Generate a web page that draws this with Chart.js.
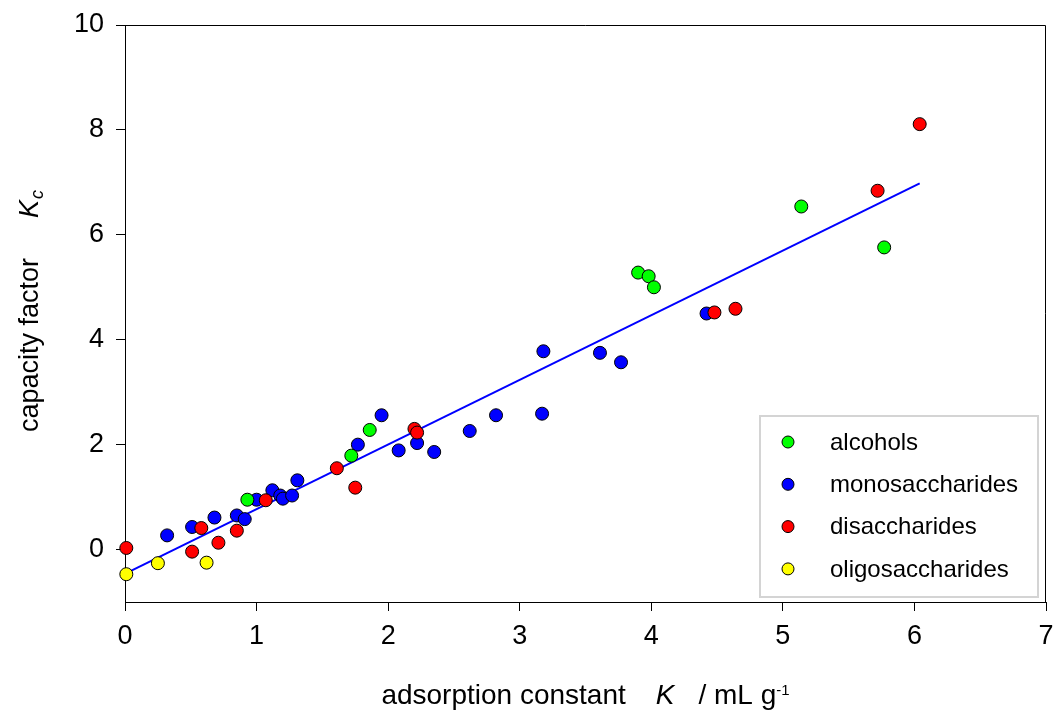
<!DOCTYPE html>
<html>
<head>
<meta charset="utf-8">
<script src="https://cdn.jsdelivr.net/npm/chart.js@4"></script>
<style>
html, body { margin: 0; padding: 0; background: #fff; }
</style>
</head>
<body>
<canvas id="myChart" width="1055" height="711"></canvas>
<script>
// values
var alcohols_x = [0.93, 1.72, 1.86, 3.90, 3.98, 4.02, 5.14, 5.77];
var alcohols_y = [0.95, 1.79, 2.28, 5.28, 5.21, 5.00, 6.54, 5.76];

var mono_x = [0.32, 0.51, 0.68, 0.85, 0.91, 1.00, 1.12, 1.18, 1.20, 1.27, 1.31, 1.77, 1.95, 2.08, 2.22, 2.35, 2.62, 2.82, 3.17, 3.18, 3.61, 3.77, 4.42];
var mono_y = [0.27, 0.43, 0.61, 0.65, 0.58, 0.95, 1.13, 1.03, 0.97, 1.03, 1.32, 2.00, 2.56, 1.89, 2.03, 1.86, 2.26, 2.56, 2.59, 3.78, 3.75, 3.57, 4.50];

var di_x = [0.01, 0.51, 0.58, 0.71, 0.85, 1.07, 1.61, 1.75, 2.20, 2.22, 4.48, 4.64, 5.72, 6.04];
var di_y = [0.03, -0.04, 0.41, 0.13, 0.36, 0.94, 1.55, 1.18, 2.30, 2.23, 4.52, 4.59, 6.84, 8.11];

var oligo_x = [0.01, 0.25, 0.62];
var oligo_y = [-0.47, -0.26, -0.25];

// fitted line, end points
var fit_x = [0.01, 6.04];
var fit_y = [-0.45, 6.98];

var x_ticks = [0, 1, 2, 3, 4, 5, 6, 7];
var y_ticks = [0, 2, 4, 6, 8, 10];

var series_labels = ['alcohols', 'monosaccharides', 'disaccharides', 'oligosaccharides'];
var series_colors = ['#00ff00', '#0000ff', '#ff0000', '#ffff00'];

var font_family = "'Liberation Sans', Arial, sans-serif";

function pts(xs, ys) {
    return xs.map(function(x, i) { return {x: x, y: ys[i]}; });
}

function point_set(i, xs, ys, order) {
    return {
        label: series_labels[i],
        data: pts(xs, ys),
        backgroundColor: series_colors[i],
        borderColor: '#000',
        borderWidth: 1,
        pointRadius: 6.5,
        pointHoverRadius: 6.5,
        clip: false,
        order: order
    };
}

// draws text made of several pieces (italic letter, super/subscript)
function draw_parts(ctx, parts, cx, cy) {
    var total = 0;
    parts.forEach(function(p) {
        ctx.font = p.font;
        p.w = ctx.measureText(p.text).width;
        total += p.w + (p.gap || 0);
    });
    var x = cx - total / 2;
    parts.forEach(function(p) {
        x += p.gap || 0;
        ctx.font = p.font;
        ctx.fillText(p.text, x, cy + (p.dy || 0));
        x += p.w;
    });
}

var frame_and_titles = {
    id: 'frame_and_titles',
    afterDraw: function(chart) {
        var ctx = chart.ctx;
        var a = chart.chartArea;
        ctx.save();
        // top and right frame lines
        ctx.strokeStyle = '#000';
        ctx.lineWidth = 1;
        ctx.beginPath();
        ctx.moveTo(a.left, a.top + 0.5);
        ctx.lineTo(a.right - 0.5, a.top + 0.5);
        ctx.lineTo(a.right - 0.5, a.bottom);
        ctx.stroke();

        ctx.fillStyle = '#000';
        ctx.textBaseline = 'alphabetic';
        ctx.textAlign = 'left';

        // x title
        draw_parts(ctx, [
            {text: 'adsorption constant', font: '28px ' + font_family},
            {text: 'K', font: 'italic 28px ' + font_family, gap: 30},
            {text: '/ mL g', font: '28px ' + font_family, gap: 24},
            {text: '-1', font: '15px ' + font_family, dy: -9}
        ], (a.left + a.right) / 2, 704);

        // y title
        ctx.translate(38, 311);
        ctx.rotate(-Math.PI / 2);
        draw_parts(ctx, [
            {text: 'capacity factor', font: '27px ' + font_family},
            {text: 'K', font: 'italic 27px ' + font_family, gap: 40},
            {text: 'c', font: 'italic 18px ' + font_family, dy: 5, gap: 1}
        ], 0, 0);
        ctx.restore();

        // legend box
        var bx = a.right - 286, by = a.bottom - 186, bw = 278, bh = 181;
        ctx.save();
        ctx.fillStyle = '#fff';
        ctx.fillRect(bx, by, bw, bh);
        ctx.strokeStyle = '#d4d4d4';
        ctx.lineWidth = 2;
        ctx.strokeRect(bx, by, bw, bh);
        ctx.font = '24px ' + font_family;
        ctx.textBaseline = 'middle';
        ctx.textAlign = 'left';
        for (var i = 0; i < series_labels.length; i++) {
            var ry = by + 26 + i * 42.3;
            ctx.beginPath();
            ctx.arc(bx + 28, ry, 6, 0, Math.PI * 2);
            ctx.fillStyle = series_colors[i];
            ctx.fill();
            ctx.lineWidth = 1;
            ctx.strokeStyle = '#000';
            ctx.stroke();
            ctx.fillStyle = '#000';
            ctx.fillText(series_labels[i], bx + 70, ry + 1);
        }
        ctx.restore();
    }
};

async function draw_chart() {
    const ctx = document.getElementById('myChart');
    new Chart(ctx, {
        type: 'scatter',
        data: {
            datasets: [
                point_set(0, alcohols_x, alcohols_y, 1),
                point_set(1, mono_x, mono_y, 3),
                point_set(2, di_x, di_y, 1),
                point_set(3, oligo_x, oligo_y, 1),
                {
                    type: 'line',
                    label: 'fit',
                    data: pts(fit_x, fit_y),
                    borderColor: '#0000ff',
                    borderWidth: 2,
                    pointRadius: 0,
                    fill: false,
                    order: 10
                }
            ]
        },
        options: {
            responsive: false,
            animation: false,
            layout: {
                padding: {top: 25, right: 9, left: 0, bottom: 0}
            },
            plugins: {
                legend: {display: false},
                tooltip: {enabled: false}
            },
            scales: {
                x: {
                    type: 'linear',
                    min: 0,
                    max: 7,
                    afterBuildTicks: function(s) { s.ticks = x_ticks.map(function(v) { return {value: v}; }); },
                    afterFit: function(s) {
                        s.height = 109;
                        s.paddingLeft = 0;
                        s.paddingRight = 0;
                    },
                    grid: {drawOnChartArea: false, color: '#000', tickLength: 9},
                    border: {color: '#000', width: 1},
                    ticks: {
                        color: '#000',
                        padding: 9,
                        maxRotation: 0,
                        font: {size: 27, family: font_family}
                    }
                },
                y: {
                    type: 'linear',
                    min: -1,
                    max: 10,
                    afterBuildTicks: function(s) { s.ticks = y_ticks.map(function(v) { return {value: v}; }); },
                    afterFit: function(s) {
                        s.width = 125;
                        s.paddingTop = 0;
                        s.paddingBottom = 0;
                    },
                    grid: {drawOnChartArea: false, color: '#000', tickLength: 9},
                    border: {color: '#000', width: 1},
                    ticks: {
                        color: '#000',
                        padding: 12,
                        font: {size: 27, family: font_family}
                    }
                }
            }
        },
        plugins: [frame_and_titles]
    });
}
draw_chart();
</script>
</body>
</html>
